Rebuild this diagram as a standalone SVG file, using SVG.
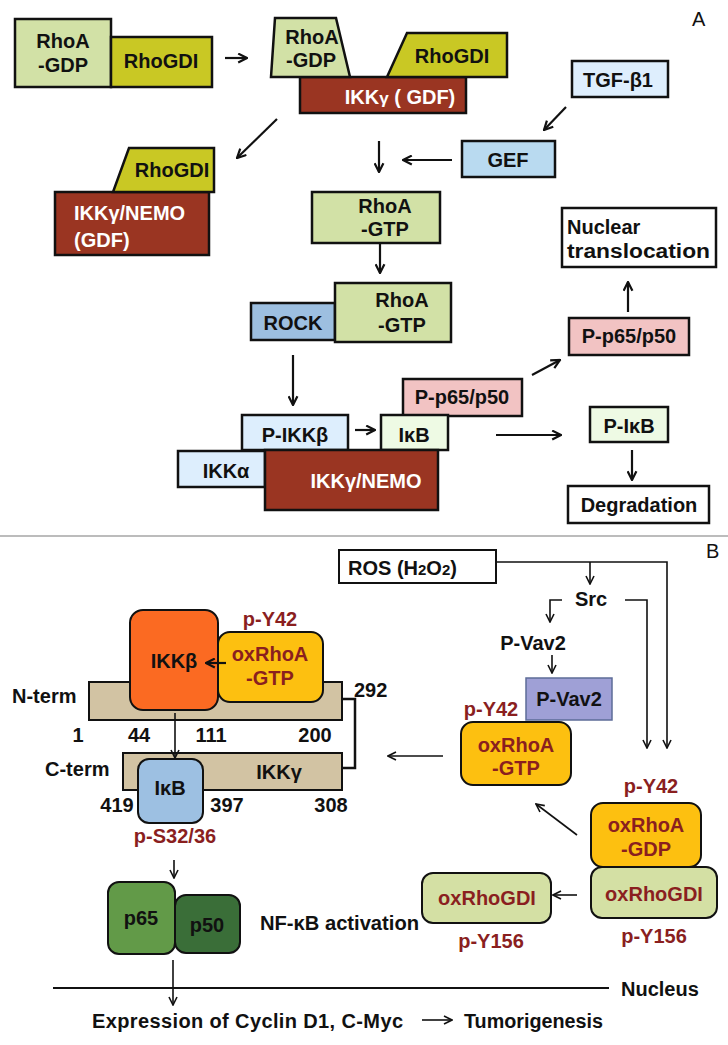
<svg xmlns="http://www.w3.org/2000/svg" width="728" height="1045" viewBox="0 0 728 1045">
<style>
text{font-family:"Liberation Sans",Arial,sans-serif;font-weight:bold;fill:#111;}
.ta{font-size:20px;}
.tb{font-size:20px;}
.c{text-anchor:middle;}
.w{fill:#fff;}
.r{fill:#8a1f1f;}
.bx{stroke:#111;stroke-width:2.5;stroke-linejoin:miter;}
.rb{stroke:#111;stroke-width:2;}
.la{fill:none;stroke:#111;stroke-width:2.2;}
.lb{fill:none;stroke:#111;stroke-width:1.6;}
.lab{font-family:"Liberation Sans",Arial,sans-serif;font-weight:normal;font-size:20px;}
</style>
<defs>
<marker id="ha" viewBox="0 0 10 10" refX="9" refY="5" markerWidth="11" markerHeight="11" markerUnits="userSpaceOnUse" orient="auto">
<path d="M1,1 L9,5 L1,9" fill="none" stroke="#111" stroke-width="2"/>
</marker>
<marker id="hb" viewBox="0 0 10 10" refX="9" refY="5" markerWidth="10" markerHeight="10" markerUnits="userSpaceOnUse" orient="auto">
<path d="M1,1 L9,5 L1,9" fill="none" stroke="#111" stroke-width="1.6"/>
</marker>
</defs>
<rect width="728" height="1045" fill="#fff"/>

<!-- Panel A -->
<text class="lab" x="692" y="26">A</text>

<g id="rhoa-gdp-1">
<rect class="bx" x="15" y="19" width="96" height="68" fill="#d2e1a6"/>
<text class="ta c" x="63" y="48">RhoA</text>
<text class="ta c" x="63" y="72">-GDP</text>
</g>
<g id="rhogdi-1">
<rect class="bx" x="111" y="37" width="101" height="50" fill="#c9c824"/>
<text class="ta c" x="161" y="68">RhoGDI</text>
</g>

<g id="ikkg-gdf">
<rect class="bx" x="300" y="77" width="166" height="36" fill="#9a3522"/>
<text class="ta c w" x="400" y="104">IKK<tspan font-size="17">γ</tspan> ( GDF)</text>
</g>
<g id="rhoa-gdp-2">
<polygon class="bx" points="275,18 336,18 350,77 271,77" fill="#d2e1a6"/>
<text class="ta c" x="312" y="44">RhoA</text>
<text class="ta c" x="311" y="67">-GDP</text>
</g>
<g id="rhogdi-2">
<polygon class="bx" points="407,33 507,33 507,77 387,77" fill="#c9c824"/>
<text class="ta c" x="452" y="63">RhoGDI</text>
</g>

<g id="tgf">
<rect class="bx" x="572" y="61" width="96" height="36" fill="#deeefd"/>
<text class="ta c" x="618" y="87">TGF-β1</text>
</g>
<g id="gef">
<rect class="bx" x="462" y="141" width="93" height="36" fill="#b9daf0"/>
<text class="ta c" x="508" y="167">GEF</text>
</g>

<g id="nemo-gdf">
<rect class="bx" x="55" y="192" width="154" height="63" fill="#9a3522"/>
<text class="ta w" x="74" y="220">IKKγ/NEMO</text>
<text class="ta w" x="74" y="247">(GDF)</text>
</g>
<g id="rhogdi-3">
<polygon class="bx" points="129,148 214,148 214,192 113,192" fill="#c9c824"/>
<text class="ta c" x="172" y="177">RhoGDI</text>
</g>

<g id="rhoa-gtp-1">
<rect class="bx" x="312" y="192" width="128" height="51" fill="#d2e1a6"/>
<text class="ta c" x="385" y="213">RhoA</text>
<text class="ta c" x="385" y="236">-GTP</text>
</g>

<g id="rock">
<rect class="bx" x="251" y="303" width="84" height="37" fill="#9dbfe0"/>
<text class="ta c" x="293" y="330">ROCK</text>
</g>
<g id="rhoa-gtp-2">
<rect class="bx" x="335" y="283" width="116" height="59" fill="#d2e1a6"/>
<text class="ta c" x="402" y="307">RhoA</text>
<text class="ta c" x="402" y="332">-GTP</text>
</g>

<g id="nuclear">
<rect class="bx" x="562" y="208" width="154" height="59" fill="#fff"/>
<text class="ta" x="567" y="234" font-size="22">Nuclear</text>
<text class="ta" x="567" y="258" font-size="22" textLength="143" lengthAdjust="spacingAndGlyphs">translocation</text>
</g>
<g id="pp65-2">
<rect class="bx" x="569" y="318" width="120" height="37" fill="#f2c3c3"/>
<text class="ta c" x="629" y="343">P-p65/p50</text>
</g>

<g id="pp65-1">
<rect class="bx" x="403" y="379" width="119" height="37" fill="#f2c3c3"/>
<text class="ta c" x="462" y="404">P-p65/p50</text>
</g>
<g id="pikkb">
<rect class="bx" x="242" y="415" width="106" height="35" fill="#ddeefd"/>
<text class="ta c" x="295" y="442">P-IKKβ</text>
</g>
<g id="ikb-a">
<rect class="bx" x="381" y="415" width="67" height="35" fill="#eefae4"/>
<text class="ta c" x="414" y="442">IκB</text>
</g>
<g id="ikka">
<rect class="bx" x="178" y="451" width="87" height="36" fill="#ddeefd"/>
<text class="ta c" x="226" y="478">IKKα</text>
</g>
<g id="nemo">
<rect class="bx" x="265" y="450" width="173" height="60" fill="#9a3522"/>
<text class="ta c w" x="366" y="488">IKKγ/NEMO</text>
</g>

<g id="pikb">
<rect class="bx" x="590" y="407" width="78" height="35" fill="#eefae4"/>
<text class="ta c" x="629" y="433">P-IκB</text>
</g>
<g id="degradation">
<rect class="bx" x="568" y="486" width="141" height="37" fill="#fff"/>
<text class="ta c" x="639" y="512">Degradation</text>
</g>

<g id="connectors-a">
<path class="la" d="M225,58 H247" marker-end="url(#ha)"/>
<path class="la" d="M277,119 L237,158" marker-end="url(#ha)"/>
<path class="la" d="M566,107 L544,130" marker-end="url(#ha)"/>
<path class="la" d="M452,160 H403" marker-end="url(#ha)"/>
<path class="la" d="M379,141 V172" marker-end="url(#ha)"/>
<path class="la" d="M380,243 V273" marker-end="url(#ha)"/>
<path class="la" d="M293,355 V405" marker-end="url(#ha)"/>
<path class="la" d="M355,430 H375" marker-end="url(#ha)"/>
<path class="la" d="M532,375 L560,360" marker-end="url(#ha)"/>
<path class="la" d="M628,312 V282" marker-end="url(#ha)"/>
<path class="la" d="M496,435 H561" marker-end="url(#ha)"/>
<path class="la" d="M632,450 V480" marker-end="url(#ha)"/>
</g>

<line x1="0" y1="536" x2="728" y2="536" stroke="#a6a6a6" stroke-width="1.5"/>

<!-- Panel B -->
<text class="lab" x="706" y="558">B</text>

<g id="ros">
<rect x="339" y="550" width="157" height="33" fill="#fff" stroke="#111" stroke-width="2"/>
<text class="tb" x="348" y="575" font-size="22">ROS (H<tspan font-size="15">2</tspan>O<tspan font-size="15">2</tspan>)</text>
</g>
<g id="src"><text class="tb c" x="591" y="606">Src</text></g>
<g id="pvav2-text"><text class="tb c" x="533" y="650">P-Vav2</text></g>

<g id="nterm">
<rect x="89" y="682" width="253" height="38" fill="#d2c3a3" stroke="#111" stroke-width="2"/>
<text class="tb" x="12" y="703">N-term</text>
</g>
<g id="ikkb">
<rect class="rb" x="130" y="610" width="88" height="100" rx="13" fill="#fb6a22"/>
<text class="tb c" x="174" y="668">IKKβ</text>
</g>
<g id="oxrhoa-gtp-1">
<rect class="rb" x="218" y="632" width="105" height="70" rx="12" fill="#fdc010"/>
<text class="tb c r" x="270" y="661">oxRhoA</text>
<text class="tb c r" x="270" y="685">-GTP</text>
<text class="tb c r" x="270" y="626">p-Y42</text>
</g>
<g id="cterm">
<rect x="123" y="753" width="219" height="37" fill="#d2c3a3" stroke="#111" stroke-width="2"/>
<text class="tb" x="45" y="776">C-term</text>
<text class="tb c" x="279" y="779">IKKγ</text>
</g>
<g id="ikb-b">
<rect class="rb" x="138" y="759" width="65" height="64" rx="11" fill="#9dc0e2"/>
<text class="tb c" x="170" y="795">IκB</text>
</g>
<g id="numbers">
<text class="tb" x="354" y="697">292</text>
<text class="tb c" x="78" y="742">1</text>
<text class="tb c" x="139" y="742">44</text>
<text class="tb c" x="211" y="742">111</text>
<text class="tb c" x="315" y="742">200</text>
<text class="tb c" x="117" y="812">419</text>
<text class="tb c" x="227" y="812">397</text>
<text class="tb c" x="331" y="812">308</text>
<text class="tb c r" x="175" y="843">p-S32/36</text>
</g>

<g id="pvav2-box">
<rect x="526" y="678" width="86" height="42" fill="#9fa0d6" stroke="#5d6c98" stroke-width="1.5"/>
<text class="tb c" x="569" y="706">P-Vav2</text>
</g>
<g id="oxrhoa-gtp-2">
<text class="tb c r" x="491" y="716">p-Y42</text>
<rect class="rb" x="461" y="722" width="110" height="63" rx="12" fill="#fdc010"/>
<text class="tb c r" x="516" y="752">oxRhoA</text>
<text class="tb c r" x="516" y="775">-GTP</text>
</g>

<g id="oxrhoa-gdp">
<text class="tb c r" x="651" y="793">p-Y42</text>
<rect class="rb" x="591" y="803" width="110" height="64" rx="12" fill="#fdc010"/>
<text class="tb c r" x="646" y="832">oxRhoA</text>
<text class="tb c r" x="646" y="856">-GDP</text>
</g>
<g id="oxrhogdi-r">
<rect class="rb" x="591" y="867" width="126" height="51" rx="11" fill="#d4e0a4"/>
<text class="tb c r" x="654" y="901">oxRhoGDI</text>
<text class="tb c r" x="654" y="943">p-Y156</text>
</g>
<g id="oxrhogdi-l">
<rect class="rb" x="422" y="873" width="129" height="50" rx="11" fill="#d4e0a4"/>
<text class="tb c r" x="487" y="905">oxRhoGDI</text>
<text class="tb c r" x="491" y="948">p-Y156</text>
</g>

<g id="p65">
<rect class="rb" x="108" y="882" width="67" height="72" rx="11" fill="#629a48"/>
<text class="tb c" x="141" y="925">p65</text>
</g>
<g id="p50">
<rect class="rb" x="175" y="895" width="65" height="58" rx="11" fill="#3a6e38"/>
<text class="tb c" x="207" y="932">p50</text>
</g>
<g id="nfkb"><text class="tb" x="260" y="930" textLength="159" lengthAdjust="spacingAndGlyphs">NF-κB activation</text></g>

<g id="nucleus">
<line x1="53" y1="988" x2="609" y2="988" stroke="#111" stroke-width="2"/>
<text class="tb" x="621" y="996">Nucleus</text>
</g>
<g id="expression"><text class="tb" x="92" y="1028" textLength="311" lengthAdjust="spacing">Expression of  Cyclin D1, C-Myc</text></g>
<g id="tumor"><text class="tb" x="464" y="1028" textLength="139" lengthAdjust="spacingAndGlyphs">Tumorigenesis</text></g>

<g id="connectors-b">
<path class="lb" d="M497,562 H667 V748" marker-end="url(#hb)"/>
<path class="lb" d="M590,562 V584" marker-end="url(#hb)"/>
<path class="lb" d="M562,600 H550 V622" marker-end="url(#hb)"/>
<path class="lb" d="M625,600 H647 V748" marker-end="url(#hb)"/>
<path class="lb" d="M552,655 V673" marker-end="url(#hb)"/>
<path class="lb" d="M443,756 H388" marker-end="url(#hb)"/>
<path class="lb" d="M577,835 L536,804" marker-end="url(#hb)"/>
<path class="lb" d="M577,895 H553" marker-end="url(#hb)"/>
<path class="la" d="M226,663 H206" marker-end="url(#ha)"/>
<path class="lb" d="M175,713 V758" marker-end="url(#hb)"/>
<path fill="none" stroke="#111" stroke-width="2.5" d="M342,699 H355 V768 H342"/>
<path class="lb" d="M174,860 V878" marker-end="url(#hb)"/>
<path class="lb" d="M173,960 V1005" marker-end="url(#hb)"/>
<path class="lb" d="M422,1020 H452" marker-end="url(#hb)"/>
</g>
</svg>
